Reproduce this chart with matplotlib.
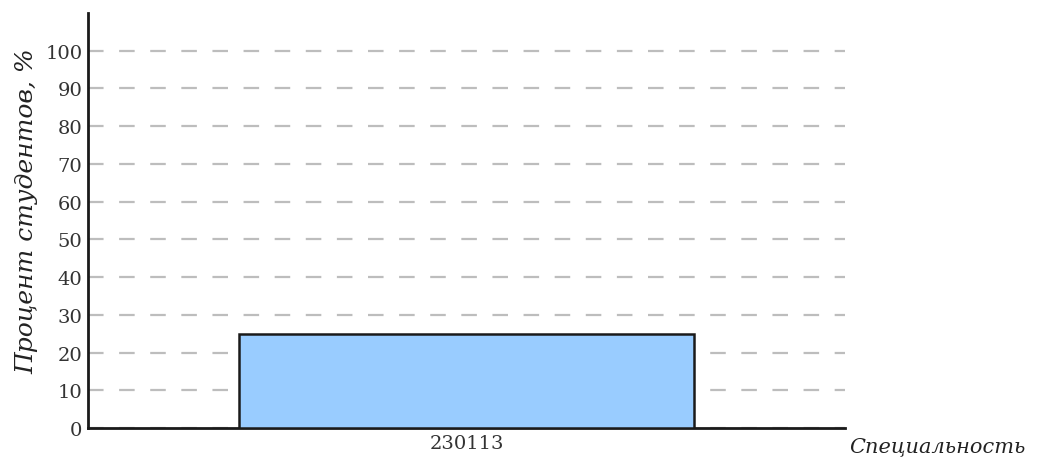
import matplotlib.pyplot as plt

# data
specialties = ['230113']
percents = [25]
y_ticks = list(range(0, 101, 10))

fig = plt.figure(figsize=(10.54, 4.64), dpi=100)
ax = fig.add_axes([0.0835, 0.0754, 0.7182, 0.8946])

ax.bar(specialties, percents, width=0.6, color='#99ccff', edgecolor='#1a1a1a',
       linewidth=1.8, zorder=3)

ax.set_xlim(-0.5, 0.5)
ax.set_ylim(0, 110)
ax.set_yticks(y_ticks)
ax.tick_params(axis='both', length=0, labelsize=14, labelcolor='#333333', pad=4)
for lbl in ax.get_xticklabels() + ax.get_yticklabels():
    lbl.set_fontfamily('DejaVu Serif')

ax.yaxis.grid(True, linestyle=(0, (7, 7)), color='#bdbdbd', linewidth=1.6, zorder=0)
ax.set_axisbelow(True)

for s in ['top', 'right']:
    ax.spines[s].set_visible(False)
for s in ['left', 'bottom']:
    ax.spines[s].set_linewidth(2)
    ax.spines[s].set_color('#1a1a1a')

ax.set_ylabel('Процент студентов, %', fontsize=18, fontstyle='italic',
              family='DejaVu Serif', color='#222222')
ax.yaxis.set_label_coords(-0.066, 0.525)
fig.text(0.806, 0.018, 'Специальность', fontsize=15, fontstyle='italic',
         family='DejaVu Serif', color='#222222', ha='left', va='bottom')

fig.savefig('out.png', dpi=100)
